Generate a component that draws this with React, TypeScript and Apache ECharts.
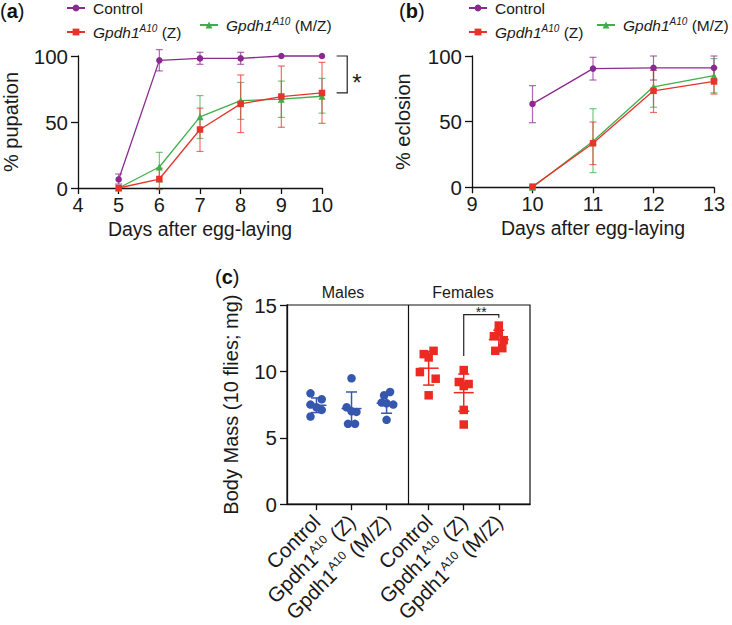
import React, { useEffect, useRef } from 'react';
import * as echarts from 'echarts';

const FONT = '"Liberation Sans", Arial, Helvetica, sans-serif';

// Panel (a): % pupation
const pupDays = [5, 6, 7, 8, 9, 10];
const pupControl = [6.5, 96.7, 98.2, 98.2, 100, 100];
const pupControlLo = [3, 88.7, 93.7, 93.7, 100, 100];
const pupControlHi = [10.6, 104.8, 102.8, 102.8, 100, 100];
const pupZ = [0, 6.8, 44.3, 63.7, 69.3, 72];
const pupZLo = [0, -1.2, 27.7, 42, 46, 49];
const pupZHi = [0, 15, 60.5, 85.6, 92.4, 95.2];
const pupMZ = [0, 15.9, 53.9, 66.2, 67.3, 69.5];
const pupMZLo = [0, 4.5, 37.5, 52, 53.5, 56.7];
const pupMZHi = [0, 27, 70, 80, 81, 83];

// Panel (b): % eclosion
const eclDays = [10, 11, 12, 13];
const eclControl = [63.5, 90.4, 91, 91];
const eclControlLo = [49.2, 81.7, 81.7, 81.7];
const eclControlHi = [77.4, 99, 100, 100];
const eclZ = [0.5, 33.5, 73.5, 80.6];
const eclZLo = [0, 17.3, 57, 71];
const eclZHi = [1, 49.7, 89, 91];
const eclMZ = [0, 35, 76.5, 85];
const eclMZLo = [0, 11.2, 61, 72];
const eclMZHi = [0, 59.9, 91, 98];

// Panel (c): body mass
const massCategories = ['Control', 'Gpdh1 (Z)', 'Gpdh1 (M/Z)', 'Control', 'Gpdh1 (Z)', 'Gpdh1 (M/Z)'];
const massPositions = [1, 2, 3, 4.2, 5.2, 6.2];
const dividerPos = 3.62;
const maleControl = [8.35, 7.9, 7.5, 7.3, 7.1, 6.6];
const maleZ = [9.48, 7.3, 7.0, 6.95, 6.05, 6.05];
const maleMZ = [8.45, 8.2, 7.65, 7.5, 7.6, 6.35];
const femaleControl = [11.3, 11.55, 11.05, 9.95, 9.45, 8.2];
const femaleZ = [10.1, 9.2, 9.05, 8.9, 7.1, 6.0];
const femaleMZ = [13.45, 12.95, 12.65, 12.35, 11.55, 11.75];
const jitter = [-0.17, 0.15, -0.17, 0.0, 0.15, -0.17];
const jitterZ = [0, -0.14, 0, 0.14, -0.1, 0.1];
const jitterMZ = [0.1, -0.07, -0.14, 0.19, 0, 0];
const fJitterC = [-0.14, 0.14, 0, -0.25, 0.2, 0];
const fJitterZ = [0, -0.14, 0.14, 0, 0, 0];
const fJitterMZ = [0, 0, -0.14, 0.14, -0.1, 0.1];
const massMeans = [7.45, 7.2, 7.6, 10.24, 8.4, 12.4];
const massSDs = [0.55, 1.25, 0.75, 1.27, 1.4, 0.7];

const PURPLE = '#8a2a8f';
const RED = '#e8332b';
const GREEN = '#3fae4b';
const BLUE = '#3557ad';
const RED_C = '#ec2a22';

const NAME_C = 'Control';
const NAME_Z = 'Gpdh1A10 (Z)';
const NAME_MZ = 'Gpdh1A10 (M/Z)';

function errSeries(xs: number[], lo: number[], hi: number[], color: string, idx: number) {
  return {
    type: 'custom',
    xAxisIndex: idx,
    yAxisIndex: idx,
    z: 1,
    silent: true,
    clip: false,
    data: xs.map((x, i) => [x, lo[i], hi[i]]),
    encode: { x: 0, y: [1, 2] },
    renderItem: (params: any, api: any) => {
      const x = api.value(0);
      const l = api.value(1);
      const h = api.value(2);
      if (l === h) return { type: 'group', children: [] };
      const a = api.coord([x, l]);
      const b = api.coord([x, h]);
      const w = 3.5;
      const st = { stroke: color, lineWidth: 1.2, opacity: 0.7 };
      return {
        type: 'group',
        children: [
          { type: 'line', shape: { x1: a[0], y1: a[1], x2: b[0], y2: b[1] }, style: st },
          { type: 'line', shape: { x1: a[0] - w, y1: a[1], x2: a[0] + w, y2: a[1] }, style: st },
          { type: 'line', shape: { x1: b[0] - w, y1: b[1], x2: b[0] + w, y2: b[1] }, style: st },
        ],
      };
    },
  };
}

function lineSeries(name: string, xs: number[], ys: number[], color: string, symbol: string, idx: number, z: number) {
  return {
    type: 'line',
    name,
    xAxisIndex: idx,
    yAxisIndex: idx,
    z,
    clip: false,
    data: xs.map((x, i) => [x, ys[i]]),
    symbol,
    symbolSize: symbol === 'triangle' ? 7 : 6.5,
    showSymbol: true,
    lineStyle: { color, width: 1.3 },
    itemStyle: { color },
  };
}

function scatterSeries(pos: number, vals: number[], jit: number[], color: string, symbol: string) {
  return {
    type: 'scatter',
    xAxisIndex: 2,
    yAxisIndex: 2,
    z: 3,
    symbol,
    symbolSize: 8.5,
    itemStyle: { color, opacity: 1 },
    data: vals.map((v, i) => [pos + jit[i], v]),
  };
}

function bracketSeries(idx: number, pts: number[][], star: string, starPt: number[], starSize: number) {
  return {
    type: 'custom',
    xAxisIndex: idx,
    yAxisIndex: idx,
    silent: true,
    clip: false,
    z: 4,
    data: [[0]],
    renderItem: (params: any, api: any) => {
      const p = pts.map((q) => api.coord(q));
      const s = api.coord(starPt);
      return {
        type: 'group',
        children: [
          { type: 'polyline', shape: { points: p }, style: { stroke: '#222', lineWidth: 1.2, fill: 'none' } },
          {
            type: 'text',
            x: s[0],
            y: s[1],
            style: { text: star, fontSize: starSize, fontFamily: FONT, fill: '#222', align: 'center', verticalAlign: 'middle' },
          },
        ],
      };
    },
  };
}

function meanSdSeries() {
  return {
    type: 'custom',
    xAxisIndex: 2,
    yAxisIndex: 2,
    silent: true,
    z: 4,
    data: massPositions.map((p, i) => [p, massMeans[i], massSDs[i]]),
    encode: { x: 0, y: 1 },
    renderItem: (params: any, api: any) => {
      const x = api.value(0);
      const m = api.value(1);
      const s = api.value(2);
      const c = params.dataIndex < 3 ? BLUE : RED_C;
      const pm = api.coord([x, m]);
      const pt = api.coord([x, m + s]);
      const pb = api.coord([x, m - s]);
      const st = { stroke: c, lineWidth: 1.5 };
      return {
        type: 'group',
        children: [
          { type: 'line', shape: { x1: pt[0], y1: pt[1], x2: pb[0], y2: pb[1] }, style: st },
          { type: 'line', shape: { x1: pm[0] - 10, y1: pm[1], x2: pm[0] + 10, y2: pm[1] }, style: st },
          { type: 'line', shape: { x1: pt[0] - 5.5, y1: pt[1], x2: pt[0] + 5.5, y2: pt[1] }, style: st },
          { type: 'line', shape: { x1: pb[0] - 5.5, y1: pb[1], x2: pb[0] + 5.5, y2: pb[1] }, style: st },
        ],
      };
    },
  };
}

const legendRich = {
  sp: { width: 3 },
  n: { fontSize: 15.5, fontFamily: FONT, color: '#1a1a1a', lineHeight: 18 },
  it: { fontSize: 15.5, fontFamily: FONT, fontStyle: 'italic', color: '#1a1a1a', lineHeight: 18 },
  sup: { fontSize: 10, fontFamily: FONT, fontStyle: 'italic', color: '#1a1a1a', verticalAlign: 'top', lineHeight: 10 },
};

function legendFormatter(name: string) {
  if (name === NAME_C) return '{sp|}{n|Control}';
  if (name === NAME_Z) return '{sp|}{it|Gpdh1}{sup|A10}{n| (Z)}';
  return '{sp|}{it|Gpdh1}{sup|A10}{n| (M/Z)}';
}

function legendAt(name: string, left: number, top: number) {
  return {
    data: [name],
    left,
    top,
    padding: 0,
    itemWidth: 18,
    itemHeight: 8.5,
    selectedMode: false,
    formatter: legendFormatter,
    textStyle: { rich: legendRich },
  };
}

const axisLineStyle = { color: '#111', width: 1.3 };

function valueXAxis(idx: number, min: number, max: number, name: string) {
  return {
    type: 'value',
    gridIndex: idx,
    min,
    max,
    interval: 1,
    name,
    nameLocation: 'middle',
    nameGap: 31,
    nameMoveOverlap: false,
    nameTextStyle: { fontSize: 19.5, fontFamily: FONT, color: '#1a1a1a' },
    axisLine: { show: true, lineStyle: axisLineStyle },
    axisTick: { show: true, length: 6, lineStyle: axisLineStyle },
    axisLabel: { fontSize: 20, fontFamily: FONT, color: '#1a1a1a', margin: 7 },
    splitLine: { show: false },
  };
}

function valueYAxis(idx: number, max: number, interval: number, name: string, nameGap: number) {
  return {
    type: 'value',
    gridIndex: idx,
    min: 0,
    max,
    interval,
    name,
    nameLocation: 'middle',
    nameGap,
    nameMoveOverlap: false,
    nameTextStyle: { fontSize: 20, fontFamily: FONT, color: '#1a1a1a' },
    axisLine: { show: true, lineStyle: axisLineStyle },
    axisTick: { show: true, length: 7, lineStyle: axisLineStyle },
    axisLabel: { fontSize: 20.5, fontFamily: FONT, color: '#1a1a1a', margin: 10 },
    splitLine: { show: false },
  };
}

function massLabel(v: number) {
  let idx = 0;
  let best = Infinity;
  massPositions.forEach((p, i) => {
    const d = Math.abs(p - v);
    if (d < best) {
      best = d;
      idx = i;
    }
  });
  const c = massCategories[idx];
  if (c === 'Control') return '{n|Control}';
  const suffix = c.replace('Gpdh1', '');
  return '{n|Gpdh1}{sup|A10}{n|' + suffix + '}';
}

function panelLabel(letter: string, x: number, y: number) {
  return {
    type: 'text',
    x,
    y,
    style: {
      text: '{n|(}{b|' + letter + '}{n|)}',
      rich: {
        n: { fontSize: 20, fontFamily: FONT, fill: '#111', color: '#111' },
        b: { fontSize: 20, fontFamily: FONT, fontWeight: 'bold', fill: '#111', color: '#111' },
      },
      verticalAlign: 'middle',
    },
  };
}

export default function App() {
  const ref = useRef<HTMLDivElement>(null);
  useEffect(() => {
    if (!ref.current) return;
    const chart = echarts.init(ref.current, null, { renderer: 'svg' });
    const option: any = {
      animation: false,
      backgroundColor: '#ffffff',
      textStyle: { fontFamily: FONT },
      grid: [
        { left: 70, top: 56, width: 252, height: 132, containLabel: false },
        { left: 472, top: 56, width: 242, height: 131.3, containLabel: false },
        { left: 287, top: 305, width: 243, height: 208.3, containLabel: false, show: true, borderColor: '#111', borderWidth: 1.2 },
      ],
      legend: [
        legendAt(NAME_C, 66, 0),
        legendAt(NAME_Z, 66, 23),
        legendAt(NAME_MZ, 199, 16),
        legendAt(NAME_C, 468, 0),
        legendAt(NAME_Z, 468, 23),
        legendAt(NAME_MZ, 596, 16),
      ],
      xAxis: [
        valueXAxis(0, 4, 10, 'Days after egg-laying'),
        valueXAxis(1, 9, 13, 'Days after egg-laying'),
        {
          type: 'value',
          gridIndex: 2,
          min: 0.16,
          max: 7.09,
          axisLine: { show: true, lineStyle: axisLineStyle },
          axisTick: { show: true, length: 6, customValues: massPositions, lineStyle: axisLineStyle },
          axisLabel: {
            customValues: massPositions,
            rotate: 45,
            margin: 14,
            formatter: (v: number) => massLabel(v),
            rich: {
              n: { fontSize: 20.5, fontFamily: FONT, color: '#1a1a1a', lineHeight: 22 },
              sup: { fontSize: 12, fontFamily: FONT, color: '#1a1a1a', verticalAlign: 'top', lineHeight: 12 },
            },
          },
          splitLine: { show: false },
        },
      ],
      yAxis: [
        valueYAxis(0, 100, 50, '% pupation', 57),
        valueYAxis(1, 100, 50, '% eclosion', 59),
        valueYAxis(2, 15, 5, 'Body Mass (10 flies; mg)', 46),
      ],
      graphic: [
        panelLabel('a', 0, 11),
        panelLabel('b', 399, 11),
        panelLabel('c', 215, 277),
        { type: 'text', x: 343, y: 292, style: { text: 'Males', fontSize: 16, fontFamily: FONT, fill: '#1a1a1a', align: 'center', verticalAlign: 'middle' } },
        { type: 'text', x: 463, y: 292, style: { text: 'Females', fontSize: 16, fontFamily: FONT, fill: '#1a1a1a', align: 'center', verticalAlign: 'middle' } },
      ],
      series: [
        errSeries(pupDays, pupMZLo, pupMZHi, GREEN, 0),
        errSeries(pupDays, pupZLo, pupZHi, RED, 0),
        errSeries(pupDays, pupControlLo, pupControlHi, PURPLE, 0),
        lineSeries(NAME_MZ, pupDays, pupMZ, GREEN, 'triangle', 0, 2),
        lineSeries(NAME_Z, pupDays, pupZ, RED, 'rect', 0, 3),
        lineSeries(NAME_C, pupDays, pupControl, PURPLE, 'circle', 0, 3),
        bracketSeries(0, [[10.36, 100], [10.62, 100], [10.62, 72], [10.36, 72]], '*', [10.86, 80], 24),

        errSeries(eclDays, eclMZLo, eclMZHi, GREEN, 1),
        errSeries(eclDays, eclZLo, eclZHi, RED, 1),
        errSeries(eclDays, eclControlLo, eclControlHi, PURPLE, 1),
        lineSeries(NAME_MZ, eclDays, eclMZ, GREEN, 'triangle', 1, 2),
        lineSeries(NAME_Z, eclDays, eclZ, RED, 'rect', 1, 3),
        lineSeries(NAME_C, eclDays, eclControl, PURPLE, 'circle', 1, 3),

        {
          ...scatterSeries(massPositions[0], maleControl, jitter, BLUE, 'circle'),
          markLine: {
            silent: true,
            symbol: 'none',
            label: { show: false },
            lineStyle: { color: '#111', width: 1.2, type: 'solid' },
            data: [{ xAxis: dividerPos }],
          },
        },
        scatterSeries(massPositions[1], maleZ, jitterZ, BLUE, 'circle'),
        scatterSeries(massPositions[2], maleMZ, jitterMZ, BLUE, 'circle'),
        scatterSeries(massPositions[3], femaleControl, fJitterC, RED_C, 'rect'),
        scatterSeries(massPositions[4], femaleZ, fJitterZ, RED_C, 'rect'),
        scatterSeries(massPositions[5], femaleMZ, fJitterMZ, RED_C, 'rect'),
        meanSdSeries(),
        bracketSeries(2, [[5.2, 11.16], [5.2, 14.28], [6.2, 14.28], [6.2, 14.04]], '**', [5.7, 14.5], 14),
      ],
    };
    chart.setOption(option);
    return () => chart.dispose();
  }, []);
  return <div ref={ref} style={{ position: 'fixed', left: 0, top: 0, width: 732, height: 625, background: '#fff' }} />;
}
